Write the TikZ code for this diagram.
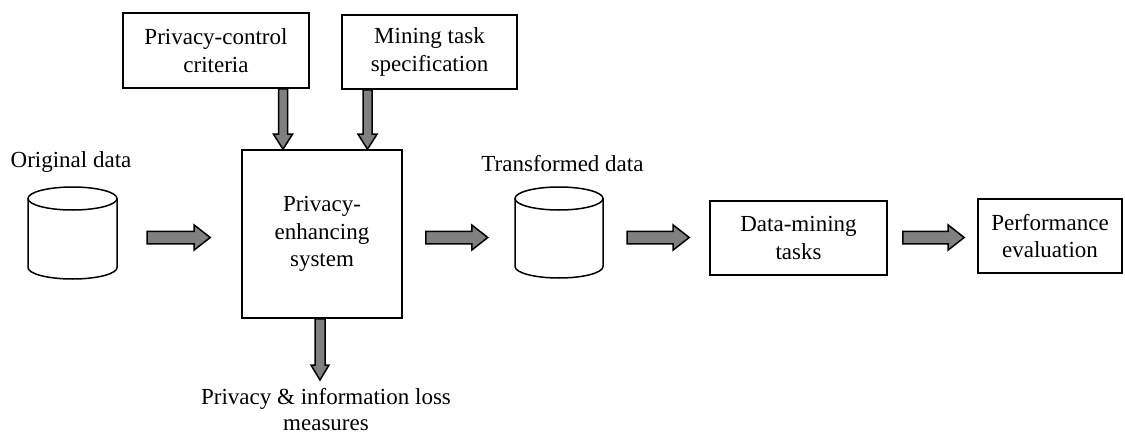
\documentclass[tikz,border=0pt]{standalone}
\usepackage{fontspec}
\setmainfont{Liberation Serif}
\usetikzlibrary{calc}
\tikzset{
  box/.style={draw=black, line width=1.6pt, rectangle, inner sep=0pt, align=center,
    font=\fontsize{23}{27.5}\selectfont},
  lbl/.style={inner sep=0pt, align=center, font=\fontsize{23}{27.5}\selectfont},
  cylline/.style={draw=black, line width=1.5pt},
  barrow/.style={draw=black, fill=black!50, line width=1.5pt, line join=miter},
  ghost/.style={rectangle, inner sep=0pt}
}
% horizontal block arrow: #1 start, #2 tip
\newcommand\HBlockArrow[2]{%
  \draw[barrow] let \p1=(#1), \p2=(#2) in
    (\x1,\y1+6.25pt) -- (\x2-16pt,\y1+6.25pt) -- (\x2-16pt,\y1+12.5pt) -- (\x2,\y1)
    -- (\x2-16pt,\y1-12.5pt) -- (\x2-16pt,\y1-6.25pt) -- (\x1,\y1-6.25pt) -- cycle;}
% vertical (downward) block arrow: #1 start, #2 tip, #3 shaft half, #4 head half
\newcommand\VBlockArrow[4]{%
  \draw[barrow] let \p1=(#1), \p2=(#2) in
    (\x1-#3,\y1) -- (\x1-#3,\y2+15pt) -- (\x1-#4,\y2+15pt) -- (\x1,\y2)
    -- (\x1+#4,\y2+15pt) -- (\x1+#3,\y2+15pt) -- (\x1+#3,\y1) -- cycle;}
\begin{document}
\begin{tikzpicture}[x=1pt, y=-1pt]
\useasboundingbox (0,0) rectangle (1125,436);
\coordinate (row) at (0,237.5);

% boxes
\node[box, minimum width=186pt, minimum height=75pt] (pcc) at (216,50.5) {Privacy-control\\criteria};
\node[box, minimum width=175pt, minimum height=74pt] (mts) at (429.5,52) {Mining task\\specification};
\node[box, minimum width=160pt, minimum height=168pt] (pes) at (322,234) {Privacy-\\enhancing\\system};
\node[box, minimum width=177pt, minimum height=74pt] (dm) at (798.5,238) {Data-mining\\tasks};
\node[box, minimum width=144pt, minimum height=74pt] (pe) at (1050,236) {Performance\\evaluation};

% cylinders
\node[ghost, minimum width=89pt, minimum height=92pt] (cyl1) at (72.5,233) {};
\draw[cylline] (28,198.5) -- (28,267.5) arc[start angle=180, end angle=360, x radius=44.5pt, y radius=11.5pt] -- (117,198.5);
\draw[cylline] (72.5,198.5) ellipse [x radius=44.5pt, y radius=11.5pt];
\node[ghost, minimum width=88pt, minimum height=91pt] (cyl2) at (559,232.5) {};
\draw[cylline] (515,198.5) -- (515,266.5) arc[start angle=180, end angle=360, x radius=44pt, y radius=11.5pt] -- (603,198.5);
\draw[cylline] (559,198.5) ellipse [x radius=44pt, y radius=11.5pt];

% labels
\node[lbl, anchor=base] (orig) at (71,167) {Original data};
\node[lbl, anchor=base] (trans) at (562.5,171) {Transformed data};
\node[lbl, anchor=north, font=\fontsize{23}{26}\selectfont] (loss) at (326,388.5) {Privacy \& information loss\\measures};
\coordinate (losstip) at (320,380);

% arrows
\HBlockArrow{$(cyl1.east |- row)+(30,0)$}{$(pes.west |- row)+(-31,0)$}
\HBlockArrow{$(pes.east |- row)+(23,0)$}{$(cyl2.west |- row)+(-27,0)$}
\HBlockArrow{$(cyl2.east |- row)+(24,0)$}{$(dm.west |- row)+(-20,0)$}
\HBlockArrow{$(dm.east |- row)+(15,0)$}{$(pe.west |- row)+(-13,0)$}
\VBlockArrow{$(pcc.south)+(67,0)$}{$(pes.north)+(-39,0)$}{4.5pt}{9.5pt}
\VBlockArrow{$(mts.south)+(-62,0)$}{$(pes.north)+(45,0)$}{4.5pt}{9.5pt}
\VBlockArrow{$(pes.south)+(-2,0)$}{losstip}{5pt}{9pt}
\end{tikzpicture}
\end{document}
